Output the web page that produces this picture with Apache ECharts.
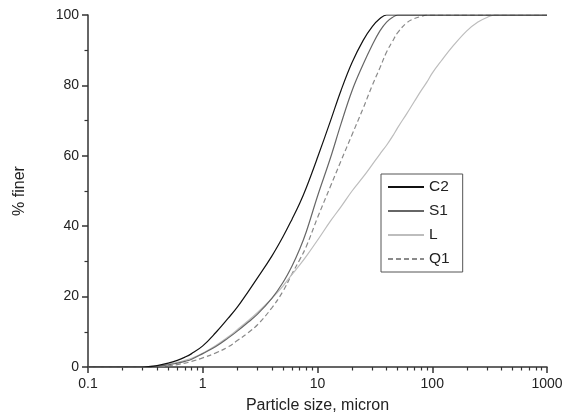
<!DOCTYPE html>
<html>
<head>
<meta charset="utf-8">
<script src="https://cdn.jsdelivr.net/npm/echarts@6/dist/echarts.min.js"></script>
<style>
html,body{margin:0;padding:0;background:#fff;}
#chart{width:564px;height:414px;}
</style>
</head>
<body>
<div id="chart"></div>
<script>
var sizes = [0.1, 0.3, 0.4, 0.5, 0.6, 0.7, 0.8, 1, 1.3, 1.66, 2, 2.5, 3, 4, 5, 6, 7, 8, 10, 13, 16, 20, 25, 30, 35, 40, 45, 50, 60, 70, 80, 90, 100, 120, 150, 200, 250, 300, 350, 1000];
var C2 = [0, 0, 0.4, 1.1, 1.9, 2.8, 3.8, 6.0, 9.8, 13.8, 17, 21.5, 25.3, 31.5, 37, 42, 46.5, 51, 59.5, 70, 78.5, 86.5, 92.8, 96.7, 99, 100, 100, 100, 100, 100, 100, 100, 100, 100, 100, 100, 100, 100, 100, 100];
var S1 = [0, 0, 0.2, 0.6, 1.1, 1.6, 2.2, 3.8, 5.8, 8.2, 10.2, 12.8, 15, 19.5, 24, 28.7, 33.5, 38.5, 48.5, 59.5, 69, 78.5, 86, 91.5, 95.5, 98, 99.3, 100, 100, 100, 100, 100, 100, 100, 100, 100, 100, 100, 100, 100];
var L = [0, 0, 0.3, 0.8, 1.3, 1.9, 2.5, 3.9, 6.1, 8.5, 10.6, 13.2, 15.5, 19.5, 23, 26.3, 29, 31.5, 36, 41.5, 45.5, 50, 54, 57.5, 60.5, 63, 65.5, 68, 72, 75.5, 78.5, 81, 83.5, 87, 91, 95.5, 98, 99.3, 100, 100];
var Q1 = [0, 0, 0, 0.3, 0.7, 1.1, 1.6, 2.6, 4, 5.7, 7.5, 9.8, 12, 16.8, 21.5, 26.5, 30.5, 34.3, 42.4, 51.4, 58.5, 66, 73.5, 80, 85, 89.5, 92.5, 95, 97.8, 99, 99.6, 100, 100, 100, 100, 100, 100, 100, 100, 100];
var xMajorTicks = [0.1, 1, 10, 100, 1000];

function pairs(vals){ return sizes.map(function(s,i){ return [s, vals[i]]; }); }
var xMinorTicks = [];
[0.1, 1, 10, 100].forEach(function(b){ for (var k=2;k<=9;k++){ xMinorTicks.push(+(b*k).toPrecision(3)); } });

var chart = echarts.init(document.getElementById('chart'), null, {renderer:'canvas'});
var axisCol = '#333';
var font = 'Liberation Sans, Arial, sans-serif';
chart.setOption({
  animation: false,
  backgroundColor: '#fff',
  grid: {left: 88, right: 17, top: 15, bottom: 47, containLabel: false, outerBoundsMode: 'none'},
  xAxis: [{
    type: 'log', logBase: 10, min: 0.1, max: 1000,
    name: 'Particle size, micron', nameLocation: 'middle', nameGap: 31,
    nameTextStyle: {fontFamily: font, fontSize: 16, color: '#222'},
    axisLine: {show: true, lineStyle: {color: axisCol, width: 1.5}},
    axisTick: {show: true, inside: false, length: 6, lineStyle: {color: axisCol, width: 1.5}, customValues: xMajorTicks},
    axisLabel: {show: true, fontFamily: font, fontSize: 14, color: '#222', margin: 10, customValues: xMajorTicks,
      formatter: function(v){ return String(+v.toPrecision(3)); }},
    splitLine: {show: false}, minorTick: {show: false}
  }, {
    type: 'log', logBase: 10, min: 0.1, max: 1000, position: 'bottom',
    axisLine: {show: false},
    axisTick: {show: true, inside: false, length: 3.5, lineStyle: {color: axisCol, width: 1.2}, customValues: xMinorTicks},
    axisLabel: {show: false},
    splitLine: {show: false}
  }],
  yAxis: {
    type: 'value', min: 0, max: 100, interval: 20,
    name: '% finer', nameLocation: 'middle', nameGap: 60, nameRotate: 90,
    nameTextStyle: {fontFamily: font, fontSize: 16, color: '#222'},
    axisLine: {show: true, lineStyle: {color: axisCol, width: 1.5}},
    axisTick: {show: true, inside: false, length: 6, lineStyle: {color: axisCol, width: 1.5}},
    minorTick: {show: true, splitNumber: 2, length: 3.5, lineStyle: {color: axisCol, width: 1.2}},
    axisLabel: {fontFamily: font, fontSize: 14, color: '#222', margin: 9},
    splitLine: {show: false}, minorSplitLine: {show: false}
  },
  legend: {
    orient: 'vertical', left: 381, top: 174,
    backgroundColor: '#fff',
    borderColor: '#555', borderWidth: 1,
    padding: [5, 13, 5, 6],
    itemWidth: 36, itemHeight: 14, itemGap: 8,
    itemStyle: {opacity: 0},
    textStyle: {fontFamily: font, fontSize: 15.5, color: '#222'},
    data: ['C2', 'S1', 'L', 'Q1']
  },
  series: [
    {name: 'C2', type: 'line', smooth: 0.4, symbol: 'none', data: pairs(C2), lineStyle: {color: '#111', width: 1.2}, itemStyle: {color: '#111'}, z: 5},
    {name: 'S1', type: 'line', smooth: 0.4, symbol: 'none', data: pairs(S1), lineStyle: {color: '#666', width: 1.2}, itemStyle: {color: '#666'}, z: 4},
    {name: 'L', type: 'line', smooth: 0.4, symbol: 'none', data: pairs(L), lineStyle: {color: '#bdbdbd', width: 1.2}, itemStyle: {color: '#bdbdbd'}, z: 3},
    {name: 'Q1', type: 'line', smooth: 0.4, symbol: 'none', data: pairs(Q1), lineStyle: {color: '#8a8a8a', width: 1.2, type: [5, 3]}, itemStyle: {color: '#8a8a8a'}, z: 2}
  ]
});
</script>
</body>
</html>
